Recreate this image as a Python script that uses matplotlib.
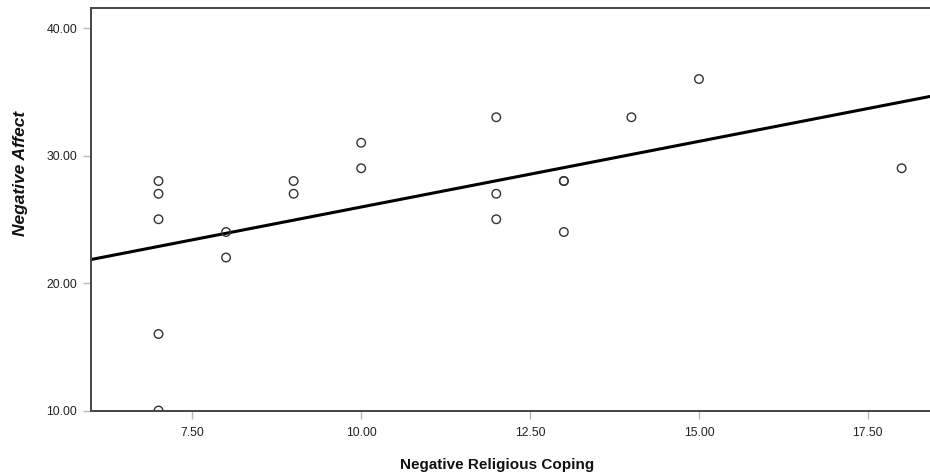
import matplotlib
matplotlib.use("Agg")
import matplotlib.pyplot as plt
import numpy as np

plt.rcParams["font.family"] = ["Liberation Sans", "DejaVu Sans"]

# observed cases
coping = [7, 7, 7, 7, 7, 8, 8, 9, 9, 10, 10, 12, 12, 12, 13, 13, 13, 14, 15, 18]
affect = [28, 27, 25, 16, 10, 24, 22, 28, 27, 31, 29, 33, 27, 25, 28, 28, 24, 33, 36, 29]

# fit line
fit_intercept = 15.66
fit_slope = 1.03

x_ticks = [7.5, 10.0, 12.5, 15.0, 17.5]
y_ticks = [10.0, 20.0, 30.0, 40.0]
x_range = (6.0, 18.42)
y_range = (10.0, 41.57)

fig = plt.figure(figsize=(9.3, 4.76), dpi=100)
ax = fig.add_axes([0.0978, 0.1376, 0.9022, 0.8456])

xs = np.array(x_range)
ax.plot(xs, fit_intercept + fit_slope * xs, color="black", linewidth=2.2, zorder=2)
ax.scatter(coping, affect, s=38, facecolors="none", edgecolors="#333333",
           linewidths=1.0, zorder=3, clip_on=True)

ax.set_xlim(*x_range)
ax.set_ylim(*y_range)
ax.set_xticks(x_ticks)
ax.set_yticks(y_ticks)
ax.set_xticklabels([f"{v:.2f}" for v in x_ticks], fontsize=8.8, color="#222222")
ax.set_yticklabels([f"{v:.2f}" for v in y_ticks], fontsize=8.8, color="#222222")
ax.tick_params(axis="both", length=6, width=1, color="#b8b8b8", pad=4)
ax.tick_params(axis="x", pad=6)

for side in ["left", "bottom", "top"]:
    ax.spines[side].set_color("#444444")
    ax.spines[side].set_linewidth(1.4)
ax.spines["right"].set_visible(False)

fig.text(497 / 930, 1 - 465 / 476, "Negative Religious Coping", ha="center", va="center",
         fontsize=11, fontweight="bold", color="#111111")
fig.text(20 / 930, 1 - 173 / 476, "Negative Affect", ha="center", va="center",
         rotation=90, fontsize=12.5, fontweight="bold", fontstyle="italic", color="#111111")

fig.savefig("out.png", dpi=100)
